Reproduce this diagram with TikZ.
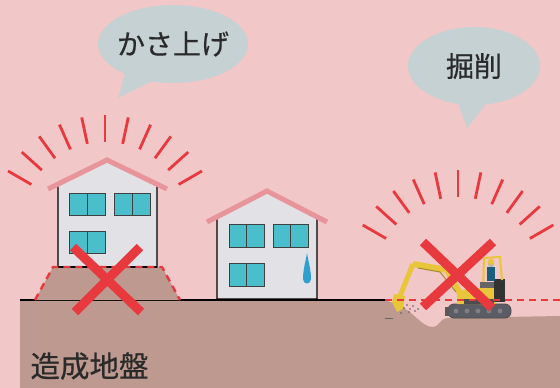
\documentclass[tikz,border=0pt]{standalone}
\usepackage{fontspec}
\usetikzlibrary{shapes.geometric,calc}
\newfontfamily\jpfont[FakeBold=0.5]{Noto Sans CJK JP}
\definecolor{sitepink}{HTML}{F2C7C8}
\definecolor{soil}{HTML}{BD998F}
\definecolor{wallgrey}{HTML}{E2E1E5}
\definecolor{roofpink}{HTML}{E8949B}
\definecolor{glass}{HTML}{4ABFCB}
\definecolor{warnred}{HTML}{E83A3E}
\definecolor{bubblegrey}{HTML}{C5D1D3}
\definecolor{droplet}{HTML}{2E9FD0}
\definecolor{digyellow}{HTML}{E9C53A}
\definecolor{trackgrey}{HTML}{5A5D66}
\definecolor{inkgrey}{HTML}{2A2A2A}

\begin{document}
\begin{tikzpicture}[x=1pt,y=-1pt,
    wall/.style={fill=wallgrey,draw=black,line width=1.2pt},
    roof/.style={draw=roofpink,line width=5pt},
    pane/.style={fill=glass,draw=black!75,line width=0.9pt},
    ray/.style={draw=warnred,line width=2.8pt},
    cross/.style={draw=warnred,line width=9pt},
    redline/.style={draw=warnred,line width=2.4pt,dash pattern=on 7pt off 5pt},
    bubble/.style={ellipse,fill=bubblegrey,inner sep=0pt},
    label/.style={text=inkgrey,font=\jpfont\fontsize{28}{30}\selectfont}
  ]
  \useasboundingbox (0,0) rectangle (560,388);
  \fill[sitepink] (0,0) rectangle (560,388);

  % ground with the dug pit on the right
  \fill[soil] (20,300) -- (385,300) -- (398,305)
    .. controls (412,310) and (422,327) .. (432,327)
    .. controls (440,327) and (440,318) .. (447,318)
    -- (560,316) -- (560,388) -- (20,388) -- cycle;
  \draw[line width=2.4pt] (20,300) -- (385,300);

  % raised mound under the left house
  \fill[soil] (35,300) -- (53,267) -- (162,267) -- (180,300) -- cycle;

  % left house
  \draw[wall] (58,267) -- (58,184) -- (107,160) -- (157,184) -- (157,267) -- cycle;
  \draw[line width=2pt] (58,267) -- (157,267);
  \draw[roof] (48,189) -- (107,160) -- (167,189);
  \foreach \x/\y in {69/193,114/193,69/231} {
    \draw[pane] (\x,\y) rectangle ++(36,22);
    \draw[black!75,line width=0.9pt] (\x+18,\y) -- ++(0,22);
  }
  \draw[redline] (35,300) -- (53,267) -- (162,267) -- (180,300);

  % right house
  \draw[wall] (217,299) -- (217,217) -- (267,191) -- (317,217) -- (317,299) -- cycle;
  \draw[line width=2.6pt] (210,300) -- (324,300);
  \draw[roof] (207,222) -- (267,191) -- (327,222);
  \foreach \x/\y in {229/224,273/224,229/263} {
    \draw[pane] (\x,\y) rectangle ++(35,23);
    \draw[black!75,line width=0.9pt] (\x+17.5,\y) -- ++(0,23);
  }
  \fill[droplet] (307,253) .. controls (308.5,262) and (311,270) .. (311,279)
    .. controls (311,285) and (303,285) .. (303,279)
    .. controls (303,270) and (305.5,262) .. (307,253) -- cycle;

  % excavator
  \draw[fill=trackgrey,draw=black!70,line width=0.8pt,rounded corners=6pt]
    (448,304) rectangle (511,318);
  \foreach \x in {456,467,478,489,500}
    \fill[black!50] (\x,311) circle (2.4pt);
  \fill[black!65] (445,307) rectangle (449,316);
  \fill[digyellow] (457,304) -- (457,293) -- (468,288) -- (495,288) -- (495,304) -- cycle;
  \fill[black!80] (494,279) rectangle (505,302);
  \fill[black!70] (464,299) rectangle (494,304);
  \draw[digyellow,line width=2pt] (483,291) -- (484,258) -- (500,257) -- (502,280);
  \fill[black!60] (480,282) rectangle (494,288);
  \fill[droplet!60!black] (487,267) rectangle (495,281);
  \fill[black!30] (491,264) circle (3pt);
  \fill[digyellow] (491,262) circle (3.2pt);
  \draw[digyellow,line width=6pt,line join=round] (462,297) -- (447,270) -- (413,264);
  \draw[digyellow!70!black,line width=1pt] (456,292) -- (440,272) -- (418,268);
  \draw[digyellow,line width=5pt,line join=round] (413,264) -- (400,296);
  \fill[digyellow] (394,294) -- (405,296) -- (403,309) -- (397,312) -- (392,302) -- cycle;
  \foreach \x/\y in {404/308,407/305,410/309,413/306,415/311,409/312,418/309,401/313}
    \fill[black!65] (\x,\y) circle (0.8pt);
  \draw[black!60,line width=0.8pt] (385,318) -- (393,318);

  % lines of the cut and the fill
  \draw[redline] (385,300) -- (560,300);

  % alarm rays
  \coordinate (liftC) at (105,227);
  \coordinate (digC) at (458,280);
  \foreach \a in {30,42,...,150} {
    \draw[ray] ($(liftC)+(\a:85pt)$) -- ($(liftC)+(\a:112pt)$);
    \draw[ray] ($(digC)+(\a:83pt)$) -- ($(digC)+(\a:110pt)$);
  }

  % crosses
  \draw[cross] (73,247) -- (141,312);
  \draw[cross] (140,247) -- (75,312);
  \draw[cross] (423,242) -- (492,308);
  \draw[cross] (493,242) -- (423,307);

  % speech bubbles
  \node[bubble,minimum width=150pt,minimum height=78pt] (kasa) at (173,44) {};
  \coordinate (kasaTip) at (118,98);
  \fill[bubblegrey] (kasa.center) -- (kasa.212) -- (kasaTip) -- (kasa.240) -- cycle;
  \node[label] (kasaText) at (kasa.center) {かさ上げ};

  \node[bubble,minimum width=132pt,minimum height=78pt] (kussaku) at (474,66) {};
  \coordinate (kussakuTip) at (467,128);
  \fill[bubblegrey] (kussaku.center) -- (kussaku.248) -- (kussakuTip) -- (kussaku.287) -- cycle;
  \node[label] (kussakuText) at (kussaku.center) {掘削};

  \node[label,anchor=west,font=\jpfont\fontsize{29.5}{31}\selectfont] (ground) at (27,366) {造成地盤};
\end{tikzpicture}
\end{document}
